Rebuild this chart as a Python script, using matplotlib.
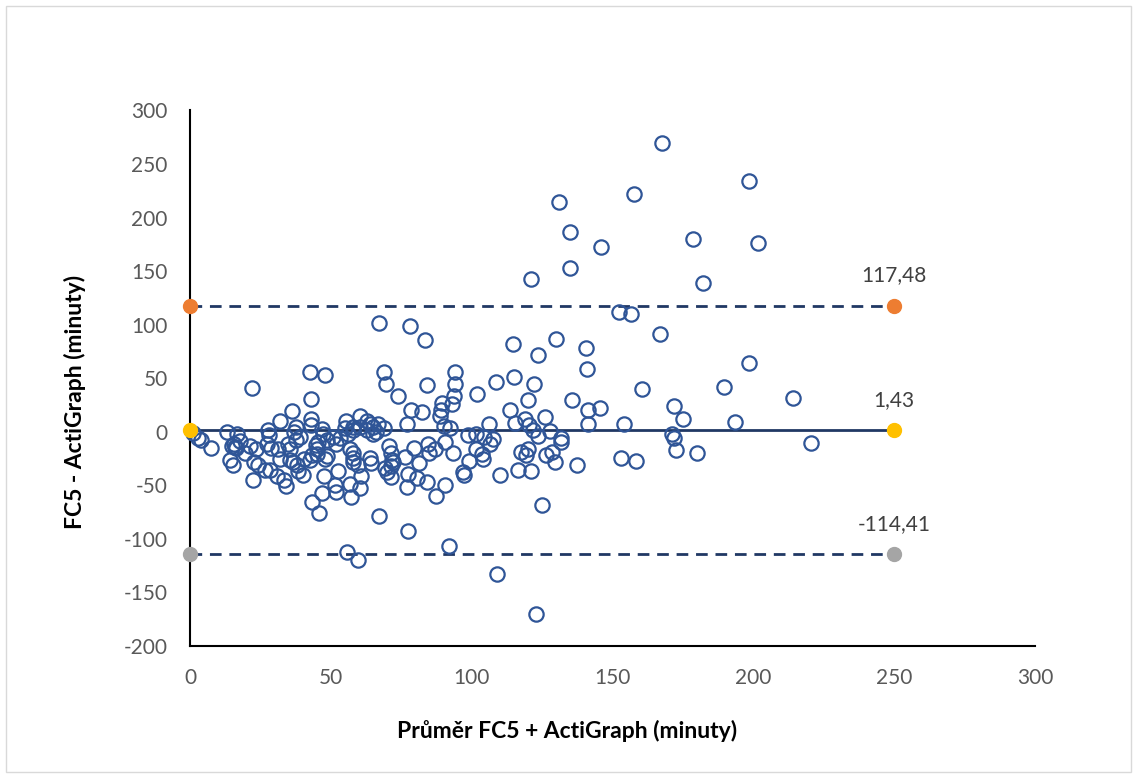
import matplotlib.pyplot as plt
from matplotlib.patches import Rectangle

# Bland-Altman: FC5 vs ActiGraph
prumer = [1.0, 3.0, 4.0, 7.5,
          13, 16.6, 15.5, 16.5, 17.7, 16, 14.8, 14.2, 15.4, 19.5, 21.3, 23.6, 22, 22.7, 24.3, 26.6, 22.3,
          27.8, 28.2, 27.4, 28.7, 31.3, 34.9, 35.5, 32, 36.3, 37.6, 37.6, 39, 36.9, 32, 35.5, 37.9, 38.4, 40, 28.4, 31, 33.3, 34, 36.7,
          42.6, 48, 43, 43, 43, 46.8, 47.3, 45.6, 44.8, 48.5, 50.6, 45, 43.2, 42.6, 40.3, 45, 48.5, 48, 47.5, 52.6, 52, 51.5, 47, 43.2, 45.8, 53.2, 52,
          55.3, 60.3, 63, 55, 58, 58, 60.3, 62.7, 65, 64.8, 66, 66.6, 64, 69, 56.2,
          56.8, 58, 58, 57.7, 59.8, 63.8, 64.2, 56.8, 57, 60.8, 60.4, 55.9, 59.8, 67,
          67, 68.9, 69.5, 70.5, 71.2, 71.8, 72.2, 69.3, 71.3, 69.9, 71.2,
          74, 78, 83.6, 84, 78.6, 82.5, 77, 89, 88.6, 89.4, 93, 93.8, 94, 94, 90, 92.2,
          79.4, 84.6, 85, 87, 90.7, 93.5, 76.5, 81.4, 77.5, 80.6, 84, 90.6, 77, 87.5, 77.5, 92, 96.8, 97.2, 98.7, 98.9,
          101.4, 103.8, 104, 102, 108.6, 106, 104.5, 107.4, 106.5, 101.7, 110, 109,
          114.5, 123.5, 115, 122, 120, 113.6, 126, 115.5, 119, 120.5, 121.9, 123.5, 127.8, 131.8, 131.8, 117.5, 120, 119.4,
          126.3, 128.5, 129.7, 116.5, 121, 137.3, 125, 123, 129.8, 135.5,
          131, 135, 146, 135, 121, 152.4, 156.7, 167, 140.6, 141, 141.4, 145.4, 141.4, 154, 160.6, 171, 172, 172.6, 180,
          153, 158.5, 167.6, 198.5, 157.5, 178.6, 201.5, 182, 198.5, 189.5, 214, 172, 175, 193.5, 220.5]
rozdil = [-1.5, -6, -8, -15,
          0, -2.5, -11, -15.5, -9, -14, -13, -26.5, -31, -20, -13, -15.6, 41, -28, -31, -35.8, -45,
          1.5, -3, -11, -15, -15.6, -11, -15.6, 10, 19, 4.6, -8, -4.8, 0, -25, -26.5, -31, -37, -40.5, -35.8, -41, -45, -50.5, -28,
          56, 53.4, 31, 12.4, 6.5, 3, -1.6, -9.4, -12.5, -8, -5, -15.6, -22, -26.5, -25, -21, -22.8, -25, -41, -36.5, -56, -50, -57.5, -66, -76, -6, -11,
          10.5, 15, 10.4, 4, 1.5, 4.6, 4.6, 1.5, 4.6, -2.3, 0, 7.3, 7.7, 3.3, -1.6,
          -15.6, -20, -24, -28.5, -31, -24, -29.5, -49, -60.7, -41, -52.5, -112, -119.8, -78.4,
          101.6, 56, 44.4, -13, -19.5, -26, -28.5, -34, -31.5, -38, -42,
          33, 99, 86, 43.5, 20.8, 18.4, 7.5, 20, 14.5, 26.7, 25.8, 33, 45, 56, 5.8, 3.3,
          -15, -11, -20, -16.5, -9.7, -19.6, -23.2, -29.5, -39.7, -43.5, -47, -50, -51.2, -60, -93, -106.7, -37.2, -40.5, -3.2, -26.8,
          -15.6, -21, -25, 35, 46.5, 7.7, -5, -7, -11.3, -1.6, -40.5, -132.7,
          82, 72, 51, 45, 29.5, 20.8, 13.5, 8.5, 12, 6, 1.5, -3.5, 0.5, -6, -9.4, -19, -16.3, -22,
          -21.5, -19, -28, -36, -37, -31, -68.8, -170, 87, 30,
          215, 187, 173, 153, 143, 112, 110, 91, 78, 59, 20, 22, 7, 7, 40, -2, -6, -17, -20,
          -24.6, -27.7, 270, 234, 222, 180, 176, 139, 64, 42, 32, 24, 12, 9, -10]

bias = 1.43
loa_upper = 117.48
loa_lower = -114.41
line_x = [0, 250]
popisky = ["117,48", "1,43", "-114,41"]

plt.rcParams['font.family'] = ['Lato', 'DejaVu Sans']
plt.rcParams['axes.unicode_minus'] = False

fig = plt.figure(figsize=(11.37, 7.78), dpi=100)
ax = fig.add_axes([190 / 1137, 1 - 646 / 778, 845 / 1137, 535.5 / 778])

navy = '#203864'
ax.plot(line_x, [bias, bias], color=navy, lw=2, zorder=2)
ax.plot(line_x, [loa_upper, loa_upper], color=navy, lw=2, ls=(0, (4.2, 2.8)), zorder=2)
ax.plot(line_x, [loa_lower, loa_lower], color=navy, lw=2, ls=(0, (4.2, 2.8)), zorder=2)

ax.plot(prumer, rozdil, 'o', ms=10.3, mfc='none', mec='#2F5597', mew=1.6, zorder=3, clip_on=False)

barvy = ['#ED7D31', '#FFC000', '#A5A5A5']
for val, c, txt in zip([loa_upper, bias, loa_lower], barvy, popisky):
    ax.plot(line_x, [val, val], 'o', ms=10, color=c, zorder=4, clip_on=False)
    ax.annotate(txt, (line_x[1], val), xytext=(0, 22), textcoords='offset points',
                ha='center', va='center', fontsize=15, color='#404040')

ax.set_xlim(0, 300)
ax.set_ylim(-200, 300)
ax.set_xticks(range(0, 301, 50))
ax.set_yticks(range(-200, 301, 50))
ax.tick_params(length=0, labelsize=15, labelcolor='#595959', pad=16)
for s in ['top', 'right']:
    ax.spines[s].set_visible(False)
for s in ['left', 'bottom']:
    ax.spines[s].set_linewidth(1.5)
    ax.spines[s].set_color('black')

fig.text(567 / 1137, 1 - 731 / 778, 'Průměr FC5 + ActiGraph (minuty)', ha='center', va='center',
         fontsize=16.5, fontweight='bold')
fig.text(75 / 1137, 1 - 402 / 778, 'FC5 - ActiGraph (minuty)', ha='center', va='center',
         rotation=90, fontsize=16.5, fontweight='bold')

fig.patches.append(Rectangle((6 / 1137, 6 / 778), 1125 / 1137, 766 / 778, transform=fig.transFigure,
                             fill=False, edgecolor='#D9D9D9', lw=1))

plt.savefig('out.png', dpi=100)
